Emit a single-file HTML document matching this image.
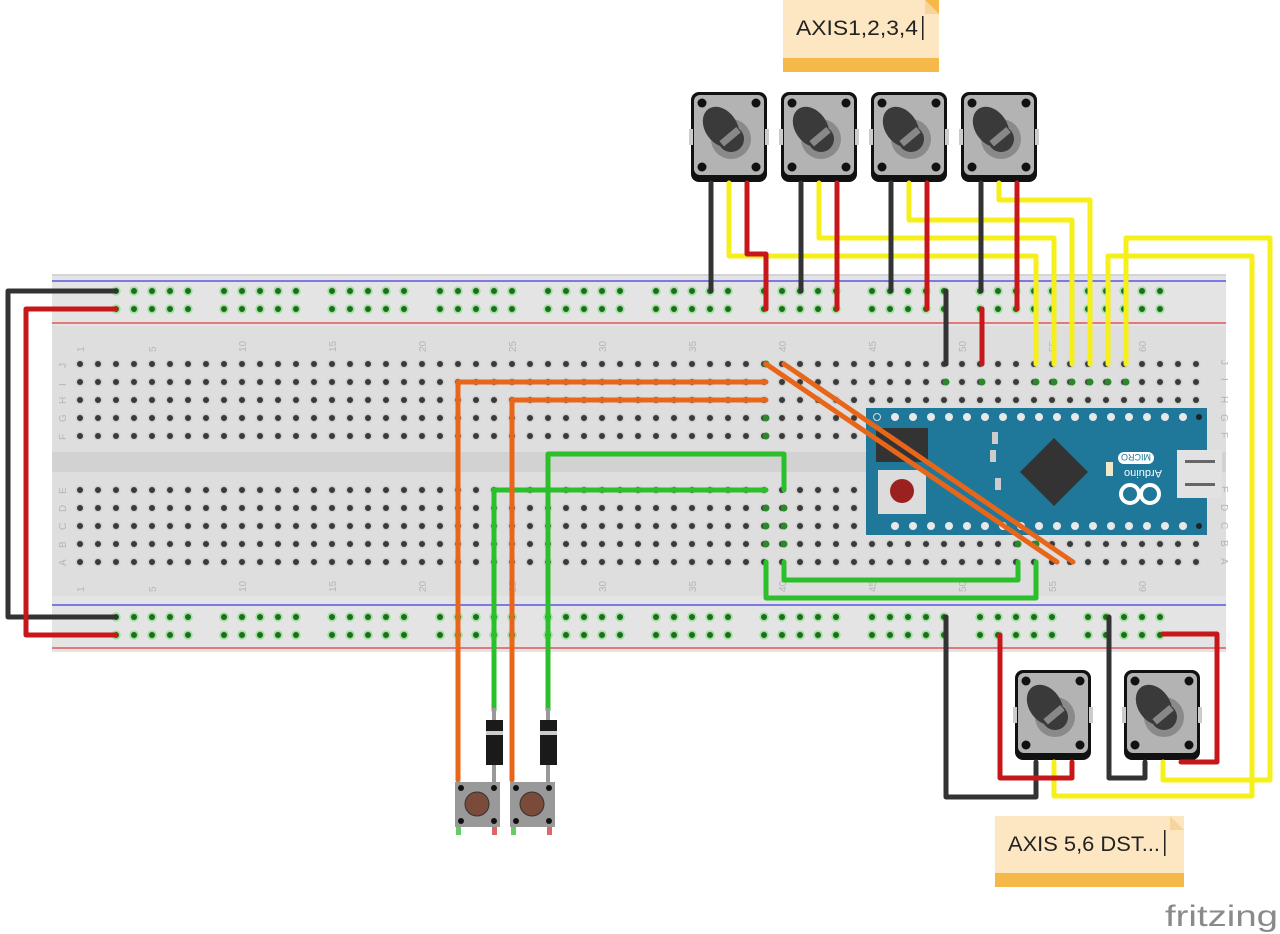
<!DOCTYPE html>
<html><head><meta charset="utf-8"><style>
html,body{margin:0;padding:0;background:#fff;width:1280px;height:934px;overflow:hidden}
svg{display:block}
</style></head><body>
<svg width="1280" height="934" viewBox="0 0 1280 934" xmlns="http://www.w3.org/2000/svg" font-family="Liberation Sans, sans-serif">
<defs>
<pattern id="holes" x="71" y="355" width="18" height="18" patternUnits="userSpaceOnUse">
<circle cx="9" cy="9" r="4.5" fill="#cfcfcf"/><circle cx="9" cy="9" r="3" fill="#3a3a3a"/></pattern>
<pattern id="rail" x="107" y="282" width="108" height="18" patternUnits="userSpaceOnUse">
<g fill="#9fe39f"><circle cx="9" cy="9" r="4.8"/><circle cx="27" cy="9" r="4.8"/><circle cx="45" cy="9" r="4.8"/><circle cx="63" cy="9" r="4.8"/><circle cx="81" cy="9" r="4.8"/></g>
<g fill="#1f6b1f"><circle cx="9" cy="9" r="3"/><circle cx="27" cy="9" r="3"/><circle cx="45" cy="9" r="3"/><circle cx="63" cy="9" r="3"/><circle cx="81" cy="9" r="3"/></g></pattern>
<pattern id="rail2" x="107" y="608" width="108" height="18" patternUnits="userSpaceOnUse">
<g fill="#9fe39f"><circle cx="9" cy="9" r="4.8"/><circle cx="27" cy="9" r="4.8"/><circle cx="45" cy="9" r="4.8"/><circle cx="63" cy="9" r="4.8"/><circle cx="81" cy="9" r="4.8"/></g>
<g fill="#1f6b1f"><circle cx="9" cy="9" r="3"/><circle cx="27" cy="9" r="3"/><circle cx="45" cy="9" r="3"/><circle cx="63" cy="9" r="3"/><circle cx="81" cy="9" r="3"/></g></pattern>
<g id="pot">
<rect x="-38" y="-45" width="76" height="90" rx="8" fill="#111"/>
<rect x="-35" y="-42" width="70" height="80" rx="6" fill="#b3b3b3"/>
<rect x="-40" y="-8" width="4" height="16" fill="#ccc"/><rect x="36" y="-8" width="4" height="16" fill="#ccc"/>
<circle cx="-27" cy="-34" r="4.5" fill="#111"/><circle cx="27" cy="-34" r="4.5" fill="#111"/>
<circle cx="-27" cy="30" r="4.5" fill="#111"/><circle cx="27" cy="30" r="4.5" fill="#111"/>
<circle cx="2" cy="2" r="20" fill="#8a8a8a"/>
<ellipse cx="-8" cy="-10" rx="16" ry="22" transform="rotate(-35 -8 -10)" fill="#3a3a3a"/>
<circle cx="2" cy="2" r="13" fill="#3a3a3a"/>
<rect x="-10" y="-3" width="22" height="7" transform="rotate(-40 0 0)" fill="#888"/>
</g>
</defs>

<!-- notes -->
<rect x="783" y="0" width="156" height="72" fill="#fde6c2"/>
<polygon points="925,0 939,0 939,14" fill="#f5b94a"/>
<polygon points="925,0 939,14 925,14" fill="#f8d49a"/>
<rect x="783" y="58" width="156" height="14" fill="#f5b94a"/>
<text x="796" y="35" font-size="21" fill="#222" textLength="122" lengthAdjust="spacingAndGlyphs">AXIS1,2,3,4</text><rect x="922" y="16" width="1.5" height="24" fill="#222"/>
<rect x="995" y="816" width="189" height="71" fill="#fde6c2"/>
<polygon points="1170,816 1184,830 1170,830" fill="#f8d49a"/>
<rect x="995" y="873" width="189" height="14" fill="#f5b94a"/>
<text x="1008" y="851" font-size="21" fill="#222" textLength="152" lengthAdjust="spacingAndGlyphs">AXIS 5,6 DST...</text><rect x="1164" y="830" width="1.5" height="26" fill="#222"/>
<text x="1165" y="926" font-size="30" fill="#8a8a8a" textLength="113" lengthAdjust="spacingAndGlyphs">fritzing</text>

<!-- breadboard -->
<rect x="52" y="274" width="1174" height="378" fill="#e4e4e4"/>
<rect x="52" y="326" width="1174" height="270" fill="#dedede"/>
<rect x="52" y="452" width="1174" height="20" fill="#d2d2d2"/>
<rect x="52" y="274" width="1174" height="2" fill="#d4d4d4"/>
<line x1="52" y1="281" x2="1226" y2="281" stroke="#3a3ae0" stroke-width="1.2"/>
<line x1="52" y1="323" x2="1226" y2="323" stroke="#e03a3a" stroke-width="1.2"/>
<line x1="52" y1="605" x2="1226" y2="605" stroke="#3a3ae0" stroke-width="1.2"/>
<line x1="52" y1="648" x2="1226" y2="648" stroke="#e03a3a" stroke-width="1.2"/>
<rect x="107" y="282" width="1080" height="36" fill="url(#rail)"/>
<rect x="107" y="608" width="1080" height="36" fill="url(#rail2)"/>
<rect x="71" y="355" width="1134" height="90" fill="url(#holes)"/>
<rect x="71" y="481" width="1134" height="90" fill="url(#holes)"/>
<g fill="#2a8a2a">
<circle cx="766" cy="364" r="3.5"/><circle cx="946" cy="382" r="3.5"/><circle cx="982" cy="382" r="3.5"/>
<circle cx="1036" cy="382" r="3.5"/><circle cx="1054" cy="382" r="3.5"/><circle cx="1072" cy="382" r="3.5"/><circle cx="1090" cy="382" r="3.5"/><circle cx="1108" cy="382" r="3.5"/><circle cx="1126" cy="382" r="3.5"/>
<circle cx="766" cy="418" r="3.5"/><circle cx="766" cy="436" r="3.5"/>
<circle cx="766" cy="508" r="3.5"/><circle cx="784" cy="508" r="3.5"/><circle cx="766" cy="526" r="3.5"/><circle cx="784" cy="526" r="3.5"/><circle cx="766" cy="544" r="3.5"/><circle cx="784" cy="544" r="3.5"/>
<circle cx="1018" cy="544" r="3.5"/><circle cx="1036" cy="544" r="3.5"/>
</g>
<g font-size="10" fill="#b5b5b5">
<text transform="translate(84,352) rotate(-90)">1</text><text transform="translate(156,352) rotate(-90)">5</text>
<text transform="translate(246,352) rotate(-90)">10</text><text transform="translate(336,352) rotate(-90)">15</text>
<text transform="translate(426,352) rotate(-90)">20</text><text transform="translate(516,352) rotate(-90)">25</text>
<text transform="translate(606,352) rotate(-90)">30</text><text transform="translate(696,352) rotate(-90)">35</text>
<text transform="translate(786,352) rotate(-90)">40</text><text transform="translate(876,352) rotate(-90)">45</text>
<text transform="translate(966,352) rotate(-90)">50</text><text transform="translate(1056,352) rotate(-90)">55</text>
<text transform="translate(1146,352) rotate(-90)">60</text>
<text transform="translate(84,592) rotate(-90)">1</text><text transform="translate(156,592) rotate(-90)">5</text>
<text transform="translate(246,592) rotate(-90)">10</text><text transform="translate(336,592) rotate(-90)">15</text>
<text transform="translate(426,592) rotate(-90)">20</text><text transform="translate(516,592) rotate(-90)">25</text>
<text transform="translate(606,592) rotate(-90)">30</text><text transform="translate(696,592) rotate(-90)">35</text>
<text transform="translate(786,592) rotate(-90)">40</text><text transform="translate(876,592) rotate(-90)">45</text>
<text transform="translate(966,592) rotate(-90)">50</text><text transform="translate(1056,592) rotate(-90)">55</text>
<text transform="translate(1146,592) rotate(-90)">60</text>
<text transform="translate(66,368) rotate(-90)">J</text><text transform="translate(66,386) rotate(-90)">I</text><text transform="translate(66,404) rotate(-90)">H</text><text transform="translate(66,422) rotate(-90)">G</text><text transform="translate(66,440) rotate(-90)">F</text>
<text transform="translate(66,494) rotate(-90)">E</text><text transform="translate(66,512) rotate(-90)">D</text><text transform="translate(66,530) rotate(-90)">C</text><text transform="translate(66,548) rotate(-90)">B</text><text transform="translate(66,566) rotate(-90)">A</text>
<text transform="translate(1221,360) rotate(90)">J</text><text transform="translate(1221,378) rotate(90)">I</text><text transform="translate(1221,396) rotate(90)">H</text><text transform="translate(1221,414) rotate(90)">G</text><text transform="translate(1221,432) rotate(90)">F</text>
<text transform="translate(1221,486) rotate(90)">E</text><text transform="translate(1221,504) rotate(90)">D</text><text transform="translate(1221,522) rotate(90)">C</text><text transform="translate(1221,540) rotate(90)">B</text><text transform="translate(1221,558) rotate(90)">A</text>
</g>

<!-- Arduino Micro -->
<rect x="866" y="408" width="341" height="127" fill="#1f7899"/>
<g fill="#e8e8e8">
<circle cx="877" cy="417" r="3.5" fill="none" stroke="#ddd"/>
<circle cx="895" cy="417" r="4"/><circle cx="913" cy="417" r="4"/><circle cx="931" cy="417" r="4"/><circle cx="949" cy="417" r="4"/><circle cx="967" cy="417" r="4"/><circle cx="985" cy="417" r="4"/><circle cx="1003" cy="417" r="4"/><circle cx="1021" cy="417" r="4"/><circle cx="1039" cy="417" r="4"/><circle cx="1057" cy="417" r="4"/><circle cx="1075" cy="417" r="4"/><circle cx="1093" cy="417" r="4"/><circle cx="1111" cy="417" r="4"/><circle cx="1129" cy="417" r="4"/><circle cx="1147" cy="417" r="4"/><circle cx="1165" cy="417" r="4"/><circle cx="1183" cy="417" r="4"/>
<circle cx="895" cy="526" r="4"/><circle cx="913" cy="526" r="4"/><circle cx="931" cy="526" r="4"/><circle cx="949" cy="526" r="4"/><circle cx="967" cy="526" r="4"/><circle cx="985" cy="526" r="4"/><circle cx="1003" cy="526" r="4"/><circle cx="1021" cy="526" r="4"/><circle cx="1039" cy="526" r="4"/><circle cx="1057" cy="526" r="4"/><circle cx="1075" cy="526" r="4"/><circle cx="1093" cy="526" r="4"/><circle cx="1111" cy="526" r="4"/><circle cx="1129" cy="526" r="4"/><circle cx="1147" cy="526" r="4"/><circle cx="1165" cy="526" r="4"/><circle cx="1183" cy="526" r="4"/>
</g>
<circle cx="1199" cy="417" r="3" fill="#222"/><circle cx="1199" cy="526" r="3" fill="#222"/>
<rect x="876" y="428" width="52" height="34" fill="#333"/>
<rect x="878" y="470" width="48" height="44" fill="#dcdcdc"/>
<circle cx="902" cy="491" r="12" fill="#9b2020"/>
<polygon points="1054,438 1088,472 1054,506 1020,472" fill="#333"/>
<rect x="992" y="432" width="6" height="12" fill="#ccc"/><rect x="990" y="450" width="6" height="12" fill="#ccc"/><rect x="995" y="478" width="6" height="12" fill="#ccc"/>
<rect x="1106" y="462" width="7" height="14" fill="#f0e8c8"/>
<rect x="1118" y="452" width="36" height="12" rx="6" fill="#fff"/>
<text x="1136" y="462" font-size="9" fill="#1f7899" text-anchor="middle" transform="rotate(180 1136 458)">MICRO</text>
<text x="1143" y="478" font-size="11" fill="#fff" text-anchor="middle" transform="rotate(180 1143 474)">Arduino</text>
<circle cx="1130" cy="494" r="9" fill="none" stroke="#fff" stroke-width="4"/><circle cx="1150" cy="494" r="9" fill="none" stroke="#fff" stroke-width="4"/>
<rect x="1177" y="450" width="45" height="48" fill="#e2e2e2"/>
<rect x="1185" y="460" width="30" height="3" fill="#666"/><rect x="1185" y="483" width="30" height="3" fill="#666"/>

<!-- pots -->
<use href="#pot" x="729" y="137"/><use href="#pot" x="819" y="137"/><use href="#pot" x="909" y="137"/><use href="#pot" x="999" y="137"/>
<use href="#pot" x="1053" y="715"/><use href="#pot" x="1162" y="715"/>

<!-- wires -->
<g fill="none" stroke-width="5" stroke-linejoin="round" stroke-linecap="round">
<g stroke="#f5ef1a">
<polyline points="729,183 729,256 1036,256 1036,364"/>
<polyline points="819,183 819,238 1054,238 1054,364"/>
<polyline points="909,183 909,220 1072,220 1072,364"/>
<polyline points="999,183 999,200 1090,200 1090,364"/>
<polyline points="1108,364 1108,256 1252,256 1252,796 1054,796 1054,762"/>
<polyline points="1126,364 1126,238 1270,238 1270,780 1163,780 1163,762"/>
</g>
<g stroke="#333">
<line x1="711" y1="183" x2="711" y2="291"/><line x1="801" y1="183" x2="801" y2="291"/>
<line x1="891" y1="183" x2="891" y2="291"/><line x1="981" y1="183" x2="981" y2="291"/>
<line x1="946" y1="291" x2="946" y2="364"/>
<polyline points="1036,762 1036,797 946,797 946,617"/>
<polyline points="1145,762 1145,778 1109,778 1109,617"/>
<polyline points="116,291 8,291 8,617 116,617"/>
</g>
<g stroke="#c8171a">
<polyline points="747,183 747,254 766,254 766,309"/>
<line x1="837" y1="183" x2="837" y2="309"/><line x1="927" y1="183" x2="927" y2="309"/>
<line x1="1017" y1="183" x2="1017" y2="309"/><line x1="982" y1="309" x2="982" y2="364"/>
<polyline points="1072,762 1072,778 1000,778 1000,635"/>
<polyline points="1181,762 1217,762 1217,634 1163,634"/>
<polyline points="116,309 26,309 26,635 116,635"/>
</g>
<g stroke="#2bbf2b">
<polyline points="548,710 548,454 784,454 784,490"/>
<polyline points="494,710 494,490 766,490"/>
<polyline points="766,562 766,598 1036,598 1036,562"/>
<polyline points="784,562 784,580 1018,580 1018,562"/>
</g>
<g stroke="#e8661a">
<polyline points="458,780 458,382 766,382"/>
<polyline points="512,780 512,400 766,400"/>
<line x1="766" y1="364" x2="1057" y2="562"/>
<line x1="784" y1="364" x2="1073" y2="562"/>
</g>
</g>

<!-- diodes and buttons -->
<rect x="492" y="708" width="4" height="74" fill="#999"/><rect x="546" y="708" width="4" height="74" fill="#999"/>
<rect x="486" y="720" width="17" height="45" fill="#1a1a1a"/><rect x="486" y="731" width="17" height="4" fill="#ccc"/>
<rect x="540" y="720" width="17" height="45" fill="#1a1a1a"/><rect x="540" y="731" width="17" height="4" fill="#ccc"/>
<g>
<rect x="455" y="782" width="45" height="45" fill="#999"/><circle cx="477" cy="804" r="12" fill="#7a4a3a" stroke="#333"/>
<circle cx="461" cy="788" r="3" fill="#111"/><circle cx="494" cy="788" r="3" fill="#111"/><circle cx="461" cy="821" r="3" fill="#111"/><circle cx="494" cy="821" r="3" fill="#111"/>
<rect x="456" y="827" width="5" height="8" fill="#6c6"/><rect x="492" y="827" width="5" height="8" fill="#d66"/>
<rect x="510" y="782" width="45" height="45" fill="#999"/><circle cx="532" cy="804" r="12" fill="#7a4a3a" stroke="#333"/>
<circle cx="516" cy="788" r="3" fill="#111"/><circle cx="549" cy="788" r="3" fill="#111"/><circle cx="516" cy="821" r="3" fill="#111"/><circle cx="549" cy="821" r="3" fill="#111"/>
<rect x="511" y="827" width="5" height="8" fill="#6c6"/><rect x="547" y="827" width="5" height="8" fill="#d66"/>
</g>
</svg>
</body></html>
